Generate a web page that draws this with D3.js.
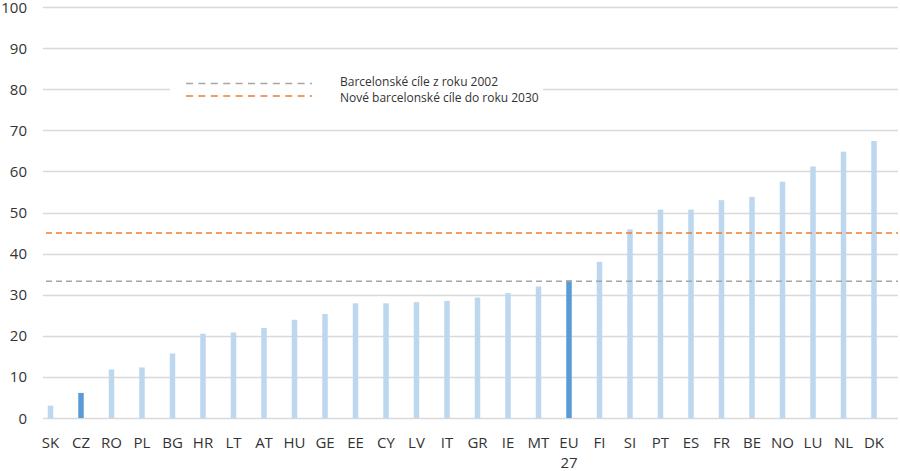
<!DOCTYPE html>
<html>
<head>
<meta charset="utf-8">
<script src="https://cdn.jsdelivr.net/npm/d3@7"></script>
<style>
  body { margin: 0; background: #fff; }
  svg { display: block; font-family: "Open Sans", sans-serif; }
</style>
</head>
<body>
<svg id="chart" width="900" height="471"></svg>
<script>
// countries, sorted by share of children under 3 in formal childcare
const countries = ["SK","CZ","RO","PL","BG","HR","LT","AT","HU","GE","EE","CY","LV","IT","GR","IE","MT","EU 27","FI","SI","PT","ES","FR","BE","NO","LU","NL","DK"];
const values = [3.0,6.1,11.8,12.3,15.7,20.5,20.8,21.9,23.9,25.3,27.9,27.9,28.2,28.5,29.3,30.4,32.0,33.5,38.0,45.9,50.7,50.7,53.0,53.8,57.5,61.2,64.8,67.4];
const highlight = ["CZ","EU 27"];
const yTicks = [0,10,20,30,40,50,60,70,80,90,100];
const targets = [
  { label: "Barcelonské cíle z roku 2002", value: 33.3, color: "#a6a6a6" },
  { label: "Nové barcelonské cíle do roku 2030", value: 45, color: "#ed7d31" }
];

const svg = d3.select("#chart");
const gridLeft = 43, gridRight = 898;
const plotTop = 7, plotBottom = 418;

const y = d3.scaleLinear().domain([0, 100]).range([plotBottom, plotTop]);
// first bar centre sits at ~50, last at ~874
const x = d3.scalePoint().domain(countries).range([50.5, 874]);
const barW = 5.5;

// gridlines
svg.append("g")
  .selectAll("line")
  .data(yTicks)
  .enter()
  .append("line")
  .attr("x1", gridLeft).attr("x2", gridRight)
  .attr("y1", d => Math.round(y(d)) + 0.5).attr("y2", d => Math.round(y(d)) + 0.5)
  .attr("stroke", "#d9d9d9").attr("stroke-width", 1.3);

// y tick labels
svg.append("g")
  .selectAll("text")
  .data(yTicks)
  .enter()
  .append("text")
  .attr("x", 27)
  .attr("y", d => y(d) + 5.5)
  .attr("text-anchor", "end")
  .attr("font-size", 15)
  .attr("fill", "#333")
  .text(d => d);

// bars
svg.append("g")
  .selectAll("rect")
  .data(countries)
  .enter()
  .append("rect")
  .attr("x", d => x(d) - barW / 2)
  .attr("width", barW)
  .attr("y", (d, i) => y(values[i]))
  .attr("height", (d, i) => plotBottom - y(values[i]))
  .attr("fill", d => highlight.includes(d) ? "#5b9bd5" : "#bdd7ee");

// target lines
svg.append("g")
  .selectAll("line")
  .data(targets)
  .enter()
  .append("line")
  .attr("x1", gridLeft + 3).attr("x2", gridRight)
  .attr("y1", d => y(d.value)).attr("y2", d => y(d.value))
  .attr("stroke", d => d.color)
  .attr("stroke-width", 1.5)
  .attr("stroke-dasharray", "6,4");

// x labels
const xl = svg.append("g")
  .selectAll("text")
  .data(countries)
  .enter()
  .append("text")
  .attr("x", d => x(d))
  .attr("y", 448)
  .attr("text-anchor", "middle")
  .attr("font-size", 15)
  .attr("fill", "#333");
xl.each(function(d) {
  const parts = d.split(" ");
  d3.select(this).selectAll("tspan")
    .data(parts)
    .enter()
    .append("tspan")
    .attr("x", x(d))
    .attr("dy", (p, i) => i === 0 ? 0 : 20)
    .text(p => p);
});

// legend
const legend = svg.append("g");
legend.append("rect")
  .attr("x", 170).attr("y", 70).attr("width", 373).attr("height", 36)
  .attr("fill", "#fff");
targets.forEach((t, i) => {
  const ly = 83.5 + i * 12.5;
  legend.append("line")
    .attr("x1", 186).attr("x2", 312)
    .attr("y1", ly).attr("y2", ly)
    .attr("stroke", t.color)
    .attr("stroke-width", 1.5)
    .attr("stroke-dasharray", "7,5.4");
  legend.append("text")
    .attr("x", 340)
    .attr("y", ly + 2 + i * 3.5)
    .attr("font-size", 12)
    .attr("fill", "#333")
    .text(t.label);
});
</script>
</body>
</html>
